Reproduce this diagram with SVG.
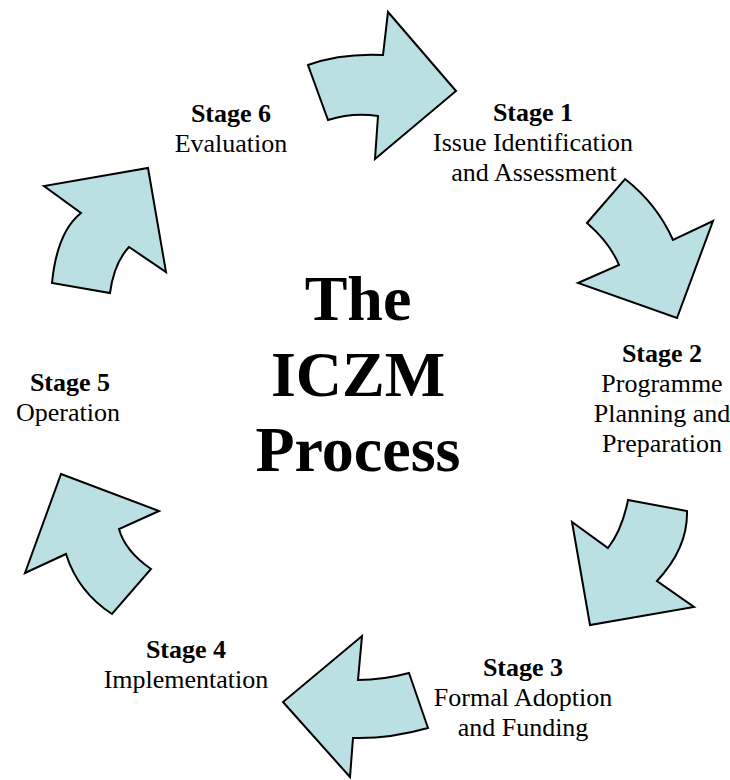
<svg xmlns="http://www.w3.org/2000/svg" width="730" height="780" viewBox="0 0 730 780">
<style>
.arrow{fill:#BBE0E3;stroke:#000;stroke-width:2;stroke-linejoin:miter}
text{font-family:"Liberation Serif","Times New Roman",serif;font-size:26px;fill:#000;text-anchor:middle}
.b{font-weight:bold}
.title{font-weight:bold;font-size:64px}
</style>
<rect width="730" height="780" fill="#fff"/>
<g id="connectors">
<path class="arrow" d="M308,65 Q341,53 383,55 L388,12 L456,91 L375,159 L378,116 Q353,112 328,120 Z"/>
<path class="arrow" d="M625,179 Q657,204 673,240 L713,221 L677,318 L578,283 L619,265 Q610,243 587,223 Z"/>
<path class="arrow" d="M628,500 L687,511 Q688,548 657,581 L694,607 L590,625 L572,522 L608,548 Q622,530 628,500 Z"/>
<path class="arrow" d="M409,673 L428,728 Q389,739 353,738 L350,777 L283,702 L362,636 L358,680 Q383,680 409,673 Z"/>
<path class="arrow" d="M61,474 L159,511 L119,529 Q125,551 151,569 L112,614 Q78,592 66,554 L25,573 Z"/>
<path class="arrow" d="M148,168 L166,272 L129,247 Q114,263 110,293 L52,283 Q57,232 81,213 L44,186 Z"/>
</g>
<g id="title">
<text class="title" x="358" y="320">The</text>
<text class="title" x="358" y="396">ICZM</text>
<text class="title" x="358" y="471">Process</text>
</g>
<g id="stage1">
<text class="b" x="533" y="121">Stage 1</text>
<text x="533" y="151">Issue Identification</text>
<text x="534" y="181">and Assessment</text>
</g>
<g id="stage2">
<text class="b" x="662" y="362">Stage 2</text>
<text x="662" y="392">Programme</text>
<text x="662" y="422">Planning and</text>
<text x="662" y="452">Preparation</text>
</g>
<g id="stage3">
<text class="b" x="523" y="676">Stage 3</text>
<text x="523" y="706">Formal Adoption</text>
<text x="523" y="736">and Funding</text>
</g>
<g id="stage4">
<text class="b" x="186" y="658">Stage 4</text>
<text x="186" y="688">Implementation</text>
</g>
<g id="stage5">
<text class="b" x="70" y="391">Stage 5</text>
<text x="68" y="421">Operation</text>
</g>
<g id="stage6">
<text class="b" x="231" y="122">Stage 6</text>
<text x="231" y="152">Evaluation</text>
</g>
</svg>
